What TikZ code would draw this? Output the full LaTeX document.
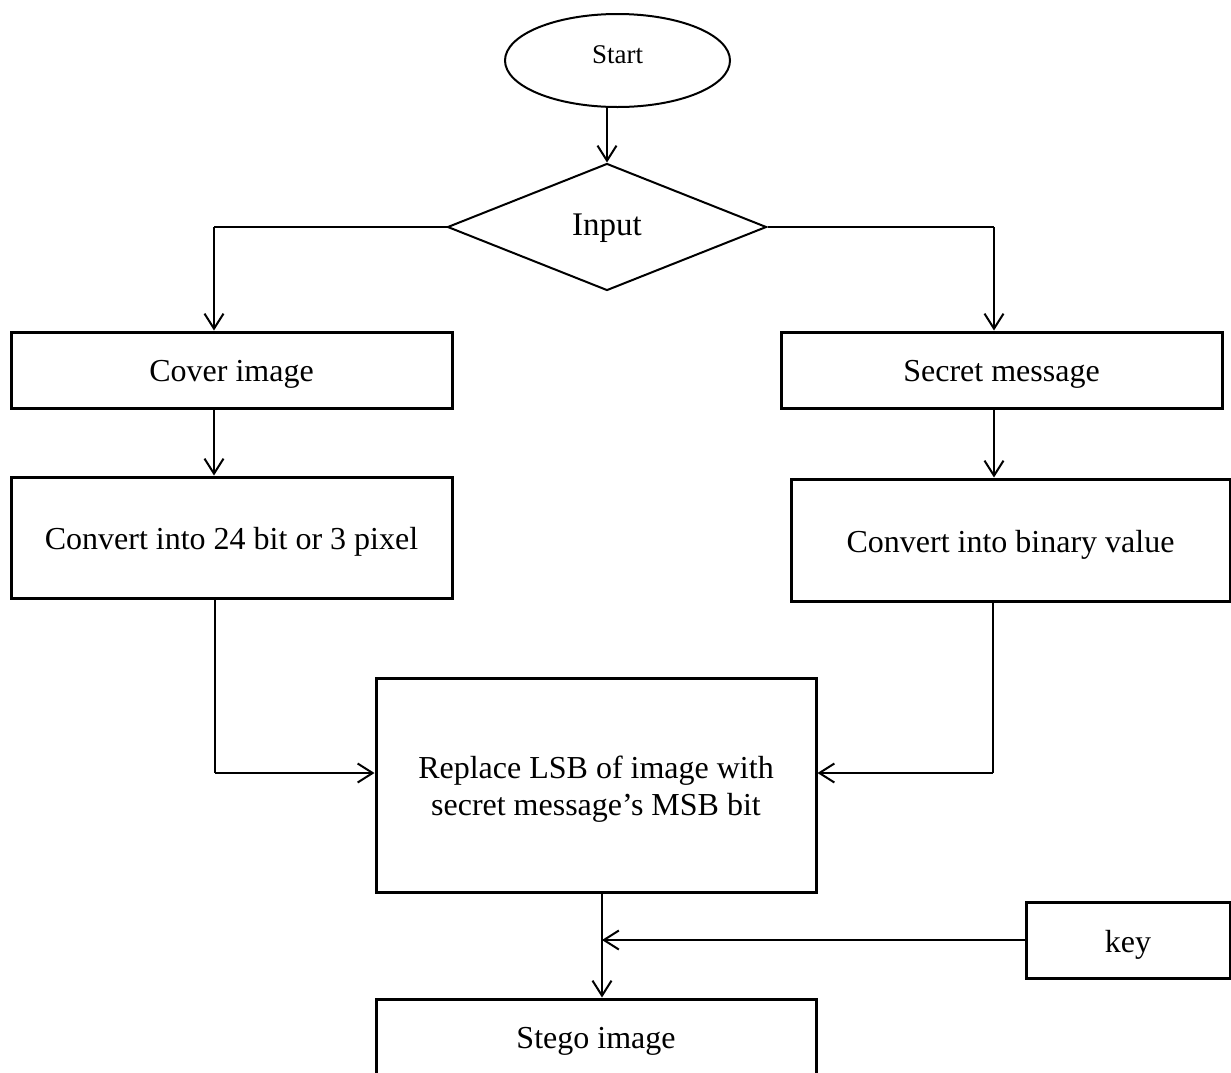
\documentclass[tikz,border=0pt]{standalone}
\usepackage{fontspec}
\setmainfont{Liberation Serif}
\usetikzlibrary{shapes.geometric,arrows.meta}

% shift a label vertically while keeping its measured size
\newcommand{\shifted}[2]{\raisebox{#1}[\height][\depth]{#2}}
\newcommand{\lowered}[1]{\shifted{-2.3pt}{#1}}

\tikzset{
  box/.style={draw, line width=1.5pt, rectangle, inner sep=0pt, align=center,
    font=\fontsize{16}{18.5}\selectfont},
  conn/.style={line width=1pt},
  arr/.style={conn, -{Straight Barb[length=7.5pt,width=9.5pt,line width=1pt]}},
}

\begin{document}
\begin{tikzpicture}[x=0.5pt,y=-0.5pt]
  \useasboundingbox (0,0) rectangle (1231,1072);
  \clip (0,0) rectangle (1231,1072);

  % start / decision
  \node[draw, ellipse, line width=1pt, minimum width=112.5pt, minimum height=46.5pt,
        inner sep=0pt, font=\fontsize{13.5}{16}\selectfont] (start) at (617.5,60.5) {\shifted{3pt}{Start}};
  \node[draw, diamond, line width=1pt, minimum width=159.5pt, minimum height=63.5pt,
        inner sep=0pt, font=\fontsize{16.5}{19}\selectfont] (input) at (607,227) {\shifted{-0.5pt}{Input}};

  % process boxes
  \node[box, minimum width=220.5pt, minimum height=38pt]   (cover)   at (231.5,370)  {\lowered{Cover image}};
  \node[box, minimum width=220.5pt, minimum height=38pt]   (secret)  at (1001.5,370) {\lowered{Secret message}};
  \node[box, minimum width=220.5pt, minimum height=60.5pt] (conv)    at (231.5,537.5) {\lowered{Convert into 24 bit or 3 pixel}};
  \node[box, minimum width=219.5pt, minimum height=61pt]   (binary)  at (1010.5,540) {\lowered{Convert into binary value}};
  \node[box, minimum width=220pt,   minimum height=107pt]  (replace) at (596,785)
       {\lowered{\begin{tabular}{@{}c@{}}Replace LSB of image with\\secret message’s MSB bit\end{tabular}}};
  \node[box, minimum width=102pt,   minimum height=38pt]   (key)     at (1128,940) {\lowered{key}};
  \node[box, minimum width=220pt,   minimum height=38pt]   (stego)   at (596,1037) {\lowered{Stego image}};

  % bend points
  \coordinate (lbend) at (214,227);
  \coordinate (rbend) at (994,227);
  \coordinate (ljoin) at (215,773);
  \coordinate (rjoin) at (993,773);
  \coordinate (mid)   at (602,940);

  % connectors
  \draw[arr] (input.north |- start.south) -- (input.north);
  \draw[conn] (input.west) -- (lbend);
  \draw[arr] (lbend) -- (lbend |- cover.north);
  \draw[conn] (input.east) -- (rbend);
  \draw[arr] (rbend) -- (rbend |- secret.north);
  \draw[arr] (cover.south -| lbend) -- (conv.north -| lbend);
  \draw[arr] (secret.south -| rbend) -- (binary.north -| rbend);
  \draw[conn] (conv.south -| ljoin) -- (ljoin);
  \draw[arr] (ljoin) -- (ljoin -| replace.west);
  \draw[conn] (binary.south -| rjoin) -- (rjoin);
  \draw[arr] (rjoin) -- (rjoin -| replace.east);
  \draw[arr] (replace.south -| mid) -- (stego.north -| mid);
  \draw[arr] (key.west) -- (mid);
\end{tikzpicture}
\end{document}
